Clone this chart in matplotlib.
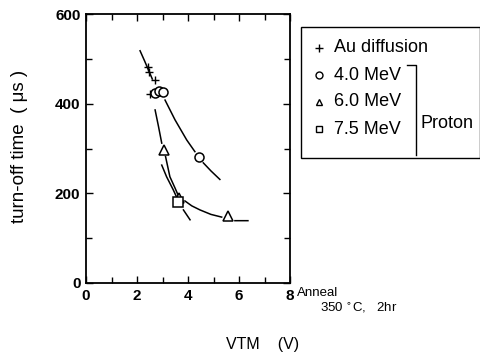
import numpy as np
import matplotlib.pyplot as plt
from matplotlib.patches import Rectangle
from matplotlib.lines import Line2D

plt.rcParams['font.family'] = ['Liberation Sans', 'DejaVu Sans']

# measured points
au_x = [2.42, 2.46, 2.72, 2.52]
au_y = [481, 470, 452, 421]
p40_x = [2.70, 2.85, 3.00, 4.45]
p40_y = [423, 428, 427, 281]
p60_x = [3.05, 3.66, 5.55]
p60_y = [297, 190, 150]
p75_x = [3.62]
p75_y = [180]

# hand drawn guide curves (nan = gap in the pen line)
c1_x = [2.12, 2.30, 2.45, 2.60, np.nan, 3.10, 3.49, 3.95, 4.27, np.nan, 4.60, 4.90, 5.25]
c1_y = [518, 495, 475, 455, np.nan, 408, 364, 319, 293, np.nan, 268, 250, 231]
c2_x = [2.71, 2.84, 2.97, np.nan, 3.12, 3.29, 3.49, 3.62, np.nan,
        3.88, 4.15, 4.47, 4.90, 5.32, np.nan, 5.84, 6.35]
c2_y = [386, 350, 312, np.nan, 282, 237, 212, 195, np.nan,
        183, 172, 163, 153, 147, np.nan, 139, 139]
c3_x = [2.97, 3.16, 3.42, 3.55, np.nan, 3.82, 3.95, 4.08]
c3_y = [263, 237, 208, 192, np.nan, 163, 152, 141]

fig = plt.figure(figsize=(4.81, 3.6), dpi=100)
ax = fig.add_axes([86/481, 1-283/360, (290-86)/481, (283-14)/360])

for cx, cy in [(c1_x, c1_y), (c2_x, c2_y), (c3_x, c3_y)]:
    ax.plot(cx, cy, color='black', lw=1.1)

ax.plot(au_x, au_y, '+', color='black', ms=6, mew=1.0)
ax.plot(p40_x, p40_y, 'o', mfc='white', mec='black', ms=6.5, mew=1.1)
ax.plot(p60_x, p60_y, '^', mfc='white', mec='black', ms=6.5, mew=1.1)
ax.plot(p75_x, p75_y, 's', mfc='white', mec='black', ms=6.5, mew=1.1)

ax.set_xlim(0, 8)
ax.set_ylim(0, 600)
ax.set_xticks([0, 2, 4, 6, 8])
ax.set_xticks([1, 3, 5, 7], minor=True)
ax.set_yticks([0, 200, 400, 600])
ax.set_yticks([100, 300, 500], minor=True)
ax.tick_params(which='both', direction='in', top=True, right=True,
               labelsize=11, width=1.0, pad=4)
ax.tick_params(which='major', length=5)
ax.tick_params(which='minor', length=4)
for lab in ax.get_xticklabels() + ax.get_yticklabels():
    lab.set_fontweight('bold')
for s in ax.spines.values():
    s.set_linewidth(1.3)

fig.text(20/481, 1-146/360, 'turn-off time  ( μs )', rotation=90,
         ha='center', va='center', fontsize=13.5)
fig.text(263/481, 1-345/360, 'VTM    (V)', ha='center', va='center', fontsize=11.5)
fig.text(297/481, 1-293/360, 'Anneal', ha='left', va='center', fontsize=9.5)
fig.text(320/481, 1-308/360, '350 $^{\\circ}$C,   2hr', ha='left', va='center', fontsize=9.5)

# legend box
fig.patches.append(Rectangle((301/481, 1-158/360), (480-301)/481, (158-27)/360,
                             transform=fig.transFigure, fill=False, lw=1.0, ec='black'))
leg_marks = ['+', 'o', '^', 's']
leg_text = ['Au diffusion', '4.0 MeV', '6.0 MeV', '7.5 MeV']
leg_y = [48, 75, 102, 129]
for m, t, yy in zip(leg_marks, leg_text, leg_y):
    fig.add_artist(Line2D([319/481], [1-yy/360], marker=m, color='black',
                          mfc='white', mec='black', ms=5 if m != '+' else 6,
                          mew=1.0, transform=fig.transFigure))
    fig.text(334/481, 1-yy/360, t, ha='left', va='center', fontsize=13)
# bracket for proton group
fig.add_artist(Line2D([407/481, 416/481, 416/481], [1-65/360, 1-65/360, 1-155/360],
                      color='black', lw=1.0, transform=fig.transFigure))
fig.text(421/481, 1-123/360, 'Proton', ha='left', va='center', fontsize=13)

fig.savefig('out.png', dpi=100)
